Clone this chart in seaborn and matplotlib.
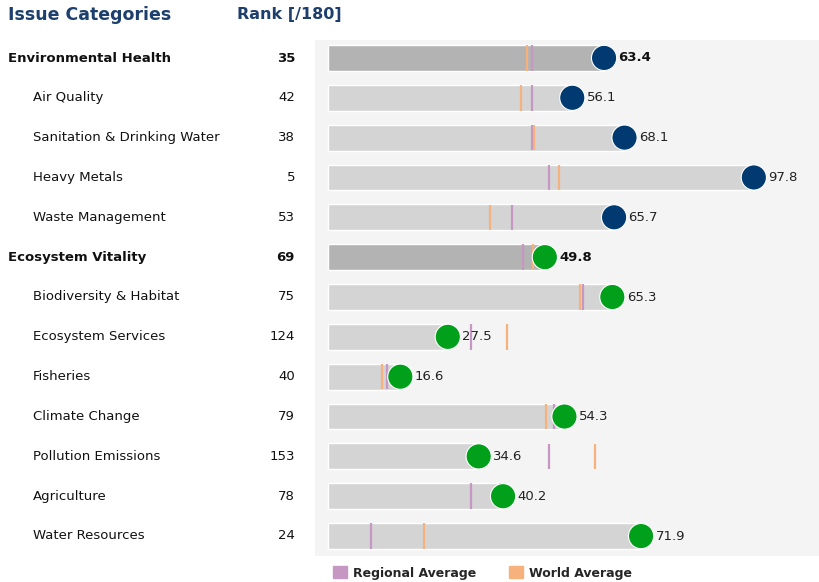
import matplotlib
matplotlib.use('Agg')
import matplotlib.pyplot as plt
import pandas as pd
import seaborn as sns
from matplotlib.patches import Patch

names = ['Environmental Health', 'Air Quality', 'Sanitation & Drinking Water', 'Heavy Metals',
         'Waste Management', 'Ecosystem Vitality', 'Biodiversity & Habitat', 'Ecosystem Services',
         'Fisheries', 'Climate Change', 'Pollution Emissions', 'Agriculture', 'Water Resources']
ranks = [35, 42, 38, 5, 53, 69, 75, 124, 40, 79, 153, 78, 24]
scores = [63.4, 56.1, 68.1, 97.8, 65.7, 49.8, 65.3, 27.5, 16.6, 54.3, 34.6, 40.2, 71.9]
regional = [46.9, 46.9, 46.9, 50.7, 42.2, 44.7, 58.5, 32.8, 13.6, 52.0, 50.7, 32.8, 9.8]
world = [45.8, 44.3, 47.3, 53.1, 37.2, 47.0, 57.8, 41.0, 12.4, 50.1, 61.3, 39.6, 22.1]
is_header = [True, False, False, False, False, True, False, False, False, False, False, False, False]
group = ['EH'] * 5 + ['EV'] * 8

navy = '#003a70'
green = '#00a01a'
purple = '#c697c2'
orange = '#f5b27c'
title_col = '#1d3f6e'

df = pd.DataFrame({'name': names, 'rank': ranks, 'score': scores, 'regional': regional,
                   'world': world, 'header': is_header, 'group': group})
df['pos'] = range(len(df))
df['kind'] = ['header' if h else 'sub' for h in df['header']]

sns.set_theme(style='white')
plt.rcParams['font.family'] = ['DejaVu Sans']

fig = plt.figure(figsize=(8.2, 5.82), dpi=100)
ax = fig.add_axes([315 / 820, 26 / 582, 505 / 820, 516 / 582])
ax.set_facecolor('#f4f4f4')

sns.barplot(data=df, x='score', y='name', hue='kind', dodge=False, orient='h',
            palette={'header': '#b3b3b3', 'sub': '#d4d4d4'}, width=0.65,
            legend=False, ax=ax, zorder=1)

ax.vlines(df['regional'], df['pos'] - 0.32, df['pos'] + 0.32, color=purple, lw=1.6, zorder=2)
ax.vlines(df['world'], df['pos'] - 0.32, df['pos'] + 0.32, color=orange, lw=1.6, zorder=2)

sns.scatterplot(data=df, x='score', y='pos', hue='group', palette={'EH': navy, 'EV': green},
                s=330, edgecolor='white', linewidth=0.8, legend=False, ax=ax, zorder=3)

for _, r in df.iterrows():
    ax.text(r['score'] + 3.3, r['pos'], f"{r['score']:.1f}", va='center', ha='left',
            fontsize=9.5, color='#222222' if not r['header'] else '#111111',
            fontweight='bold' if r['header'] else 'normal', zorder=4)

ax.set_xlim(-3, 113)
ax.set_ylim(12.5, -0.45)
ax.set_xlabel('')
ax.set_ylabel('')
ax.set_xticks([])
ax.set_yticks([])
for s in ax.spines.values():
    s.set_visible(False)

# left columns
def fy(i):
    return 1 - (58 + 39.83 * i) / 582

for i, r in df.iterrows():
    fig.text((8 if r['header'] else 33) / 820, fy(i), r['name'], va='center', ha='left',
             fontsize=9.5, color='#111111', fontweight='bold' if r['header'] else 'normal')
    fig.text(295 / 820, fy(i), str(r['rank']), va='center', ha='right',
             fontsize=9.5, color='#111111', fontweight='bold' if r['header'] else 'normal')

fig.text(8 / 820, 1 - 15 / 582, 'Issue Categories', va='center', ha='left',
         fontsize=12.5, color=title_col, fontweight='bold')
fig.text(237 / 820, 1 - 15 / 582, 'Rank [/180]', va='center', ha='left',
         fontsize=11.5, color=title_col, fontweight='bold')

handles = [Patch(color=purple, label='Regional Average'), Patch(color=orange, label='World Average')]
leg = fig.legend(handles=handles, loc='upper left', bbox_to_anchor=(322 / 820, 1 - 555 / 582),
                 ncol=2, frameon=False, handlelength=1.1, handleheight=1.1, columnspacing=2.6,
                 handletextpad=0.5, prop={'size': 9, 'weight': 'bold'})

fig.savefig('out.png', dpi=100)
